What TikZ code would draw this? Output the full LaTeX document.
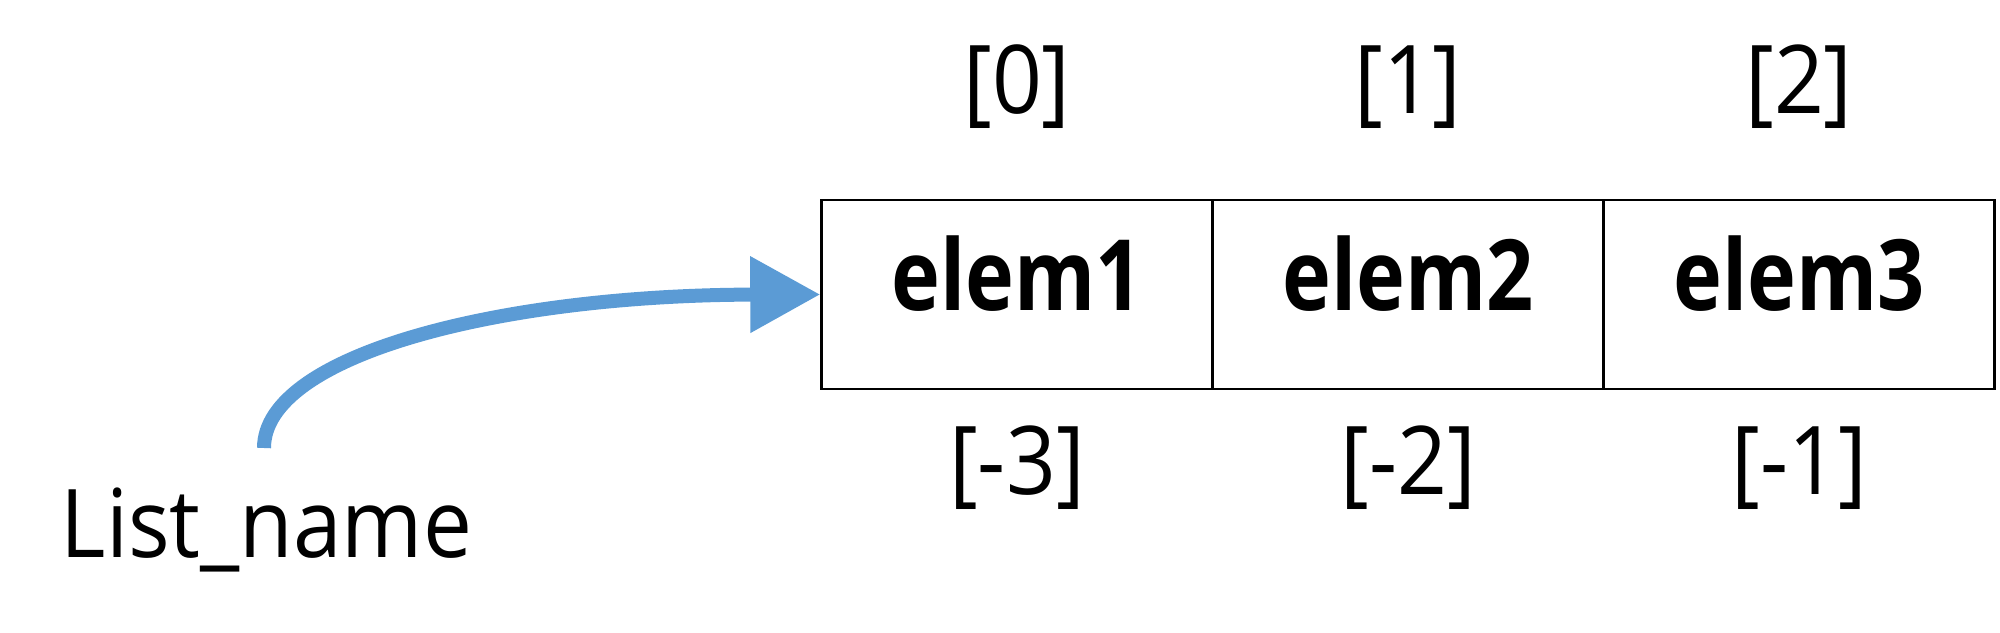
\documentclass[tikz,border=0pt]{standalone}
\usepackage{fontspec}
\setmainfont{Open Sans}[FakeStretch=0.92]
\newfontfamily\elemfont{Open Sans}[FakeStretch=0.84,UprightFont=*-Bold]
\usetikzlibrary{arrows.meta}
\definecolor{arrowblue}{HTML}{5B9BD5}
\begin{document}
\begin{tikzpicture}[
  cell/.style={draw=black, line width=0.8pt, minimum width=3.907cm, minimum height=1.89cm,
    text depth=0.42cm, inner sep=0pt, font=\elemfont\fontsize{28pt}{32pt}\selectfont},
  idx/.style={inner sep=0pt, font=\fontsize{27pt}{32pt}\selectfont},
  pointer/.style={draw=arrowblue, line width=0.14cm, -{Triangle[length=0.7cm,width=0.73cm]}}
]
\useasboundingbox (0,0) rectangle (20,-6.33);
\node[cell] (c1) at (10.17,-2.945) {elem1};
\node[cell] (c2) at (14.08,-2.945) {elem2};
\node[cell] (c3) at (17.99,-2.945) {elem3};
\node[idx] (t0) at (10.17,-0.87) {[0]};
\node[idx] (t1) at (14.08,-0.87) {[1]};
\node[idx] (t2) at (17.99,-0.87) {[2]};
\node[idx] (b3) at (10.17,-4.68) {[-3]};
\node[idx] (b2) at (14.08,-4.68) {[-2]};
\node[idx] (b1) at (17.99,-4.68) {[-1]};
\node[idx, anchor=base west] (name) at (0.6,-5.58) {List\_name};
\coordinate (start) at (2.64,-4.48);
\draw[pointer] (start) .. controls (2.64,-3.55) and (5.0,-2.95) .. (c1.west);
\end{tikzpicture}
\end{document}
